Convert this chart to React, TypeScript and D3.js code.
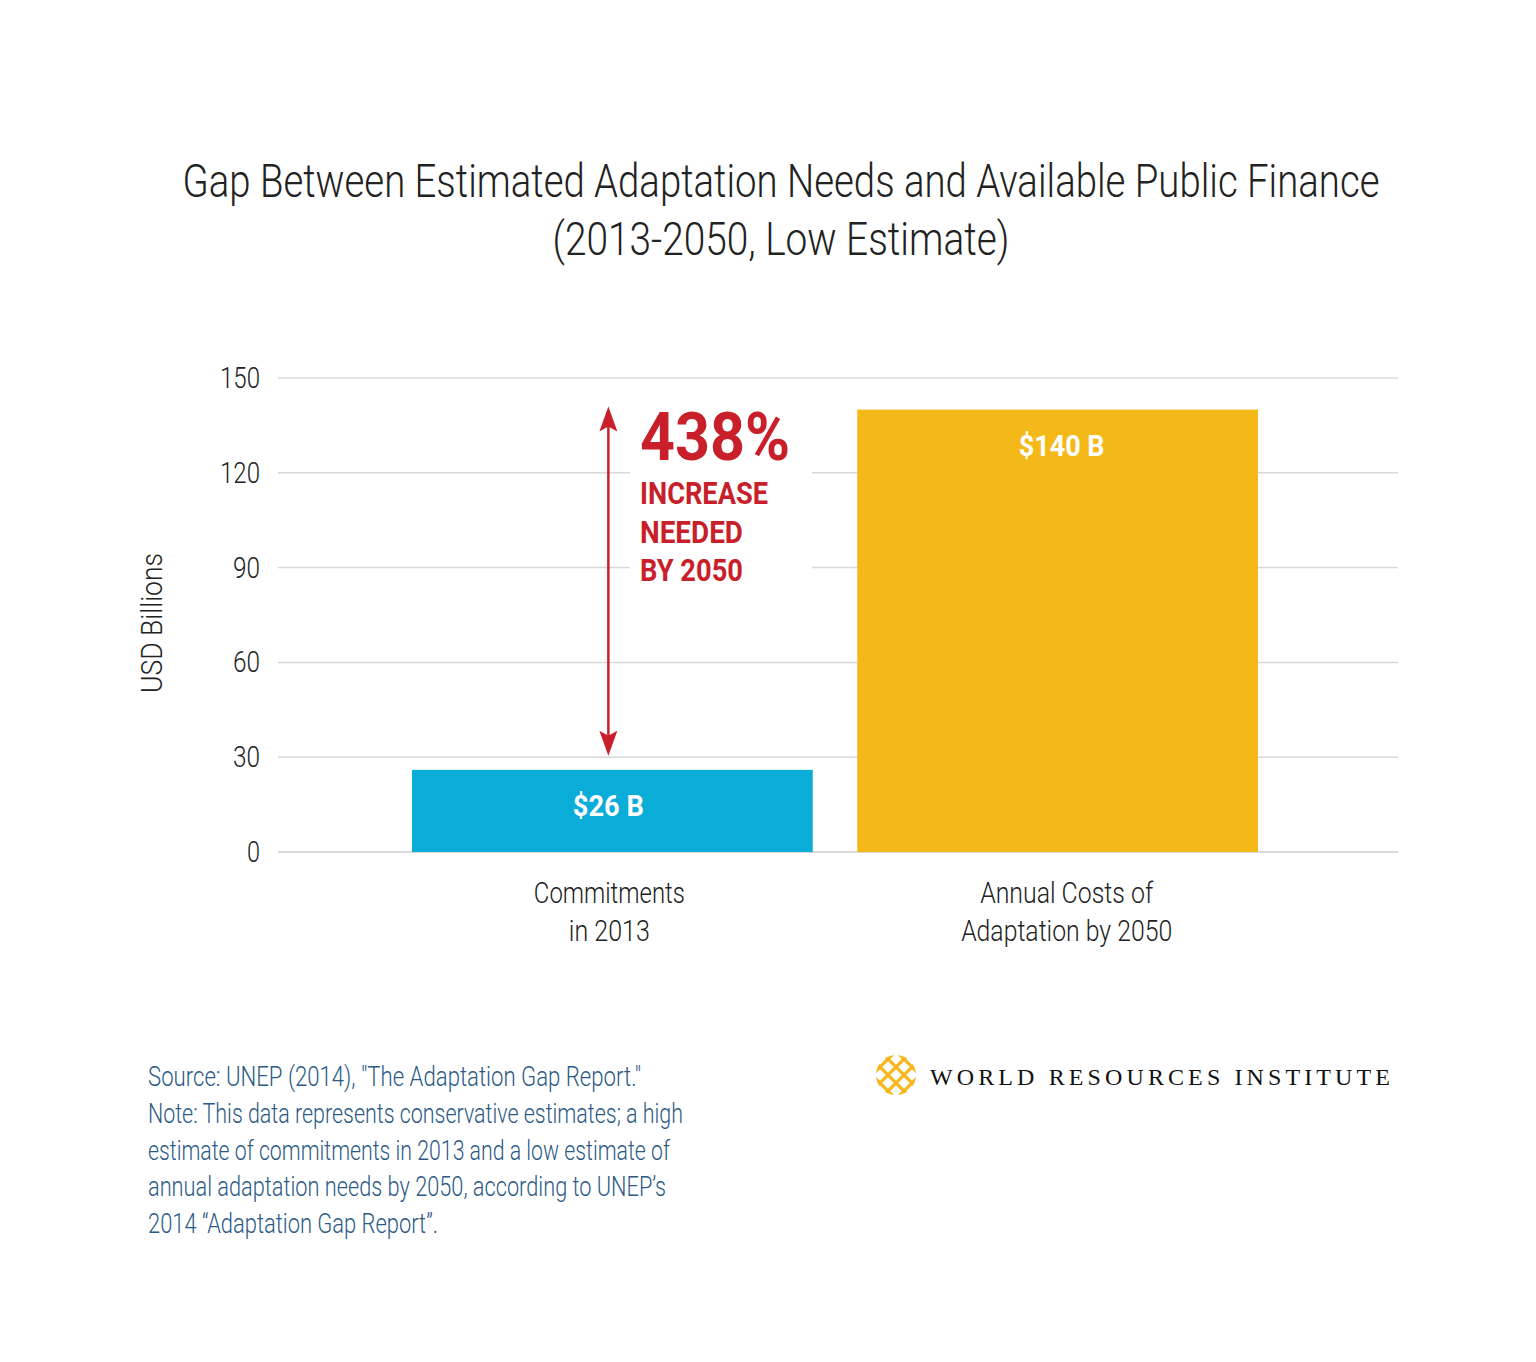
import React from "react";
import * as d3 from "d3";

const categories = ["Commitments\nin 2013", "Annual Costs of\nAdaptation by 2050"];
const values = [26, 140];
const valueLabels = ["$26 B", "$140 B"];
const barColors = ["#0aacd8", "#f4b918"];
const yTicks = [0, 30, 60, 90, 120, 150];
const titleLines = ["Gap Between Estimated Adaptation Needs and Available Public Finance", "(2013-2050, Low Estimate)"];
const annotationBig = "438%";
const annotationLines = ["INCREASE", "NEEDED", "BY 2050"];
const sourceLines = [
  "Source: UNEP (2014), \"The Adaptation Gap Report.\"",
  "Note: This data represents conservative estimates; a high",
  "estimate of commitments in 2013 and a low estimate of",
  "annual adaptation needs by 2050, according to UNEP\u2019s",
  "2014 \u201CAdaptation Gap Report\u201D.",
];
const sourceWidths = [493, 535, 522, 518, 290];
const logoText = "WORLD RESOURCES INSTITUTE";

const FONT = "'Roboto', 'Liberation Sans', sans-serif";
const RED = "#c81f2a";

const catLineWidths = [[151, 81], [173, 211]];
const valueLabelWidths = [71, 86];
const tickWidth = (t: number) => (t >= 100 ? 40 : t >= 10 ? 27 : 13);

function Logo({ cx, cy }: { cx: number; cy: number }) {
  const r = 20;
  const lines: JSX.Element[] = [];
  const offs = [-12, -4, 4, 12];
  offs.forEach((o, i) => {
    lines.push(
      <line key={"a" + i} x1={cx - r + o} y1={cy - r - o} x2={cx + r + o} y2={cy + r - o}
        stroke="#f6b61c" strokeWidth={3.2} />
    );
    lines.push(
      <line key={"b" + i} x1={cx - r + o} y1={cy + r + o} x2={cx + r + o} y2={cy - r + o}
        stroke="#f6b61c" strokeWidth={3.2} />
    );
  });
  return (
    <g>
      <clipPath id="logoClip">
        <circle cx={cx} cy={cy} r={r} />
      </clipPath>
      <g clipPath="url(#logoClip)">{lines}</g>
    </g>
  );
}

export default function App() {
  const W = 1536, H = 1362;
  const y = d3.scaleLinear().domain([0, 150]).range([852, 378]);
  const xb = d3.scaleBand().domain(categories).range([412, 1258]).paddingInner(0.1).paddingOuter(0);

  const arrowX = xb(categories[0])! + xb.bandwidth() / 2 - 4;

  return (
    <svg width={W} height={H} style={{ display: "block", marginLeft: -8, marginTop: -8 }} fontFamily={FONT}>
      <rect width={W} height={H} fill="#fff" />
      {titleLines.map((t, i) => (
        <text key={i} x={781} y={197 + i * 58} textAnchor="middle" fontSize={46} fontWeight={300} fill="#222"
          textLength={i === 0 ? 1197 : 457} lengthAdjust="spacingAndGlyphs">{t}</text>
      ))}

      {/* grid */}
      {yTicks.map((t) => (
        <g key={t}>
          <line x1={278} x2={1398} y1={y(t)} y2={y(t)} stroke={t === 0 ? "#cfcfcf" : "#d8d8d8"} strokeWidth={1.5} />
          <text x={260 - tickWidth(t)} y={y(t) + 10} fontSize={29} fontWeight={300} fill="#222"
            textLength={tickWidth(t)} lengthAdjust="spacingAndGlyphs">{t}</text>
        </g>
      ))}
      <text transform={`translate(162,623) rotate(-90)`} textAnchor="middle" fontSize={29} fontWeight={300} fill="#222"
        textLength={140} lengthAdjust="spacingAndGlyphs">USD Billions</text>

      {/* white box behind annotation */}
      <rect x={630} y={398} width={182} height={196} fill="#fff" />

      {/* bars */}
      {categories.map((c, i) => (
        <g key={c}>
          <rect x={xb(c)} y={y(values[i])} width={xb.bandwidth()} height={y(0) - y(values[i])} fill={barColors[i]} />
          <text x={xb(c)! + xb.bandwidth() / 2 - (i === 0 ? 4 : -4)} y={y(values[i]) + 46} textAnchor="middle" fontSize={30}
            fontWeight="bold" fill="#fff" textLength={valueLabelWidths[i]} lengthAdjust="spacingAndGlyphs">{valueLabels[i]}</text>
          {c.split("\n").map((ln, j) => (
            <text key={j} x={xb(c)! + xb.bandwidth() / 2 + (i === 1 ? 9 : -3)} y={903 + j * 38} textAnchor="middle" fontSize={29}
              fontWeight={300} fill="#222" textLength={catLineWidths[i][j]} lengthAdjust="spacingAndGlyphs">{ln}</text>
          ))}
        </g>
      ))}

      {/* arrow */}
      <line x1={arrowX} x2={arrowX} y1={y(140) + 12} y2={y(26) - 26} stroke={RED} strokeWidth={2.5} />
      <path d={`M${arrowX},${y(140) - 3} L${arrowX - 9},${y(140) + 22} L${arrowX},${y(140) + 17} L${arrowX + 9},${y(140) + 22} Z`} fill={RED} />
      <path d={`M${arrowX},${y(26) - 14} L${arrowX - 9},${y(26) - 39} L${arrowX},${y(26) - 34} L${arrowX + 9},${y(26) - 39} Z`} fill={RED} />

      <text x={640} y={460} fontSize={66} fontWeight="bold" fill={RED} textLength={150} lengthAdjust="spacingAndGlyphs">{annotationBig}</text>
      {annotationLines.map((t, i) => (
        <text key={t} x={640} y={504 + i * 38.5} fontSize={31} fontWeight="bold" fill={RED}
          textLength={[128, 103, 103][i]} lengthAdjust="spacingAndGlyphs">{t}</text>
      ))}

      {/* source */}
      {sourceLines.map((t, i) => (
        <text key={i} x={148} y={1086 + i * 36.8} fontSize={27} fontWeight={300} fill="#2b5a86"
          textLength={sourceWidths[i]} lengthAdjust="spacingAndGlyphs">{t}</text>
      ))}

      {/* logo */}
      <Logo cx={896} cy={1075} />
      <text x={930} y={1085} fontFamily="'Liberation Serif', 'DejaVu Serif', serif" fill="#111" fontSize={24}
        textLength={460} lengthAdjust="spacing">{logoText}</text>
    </svg>
  );
}
